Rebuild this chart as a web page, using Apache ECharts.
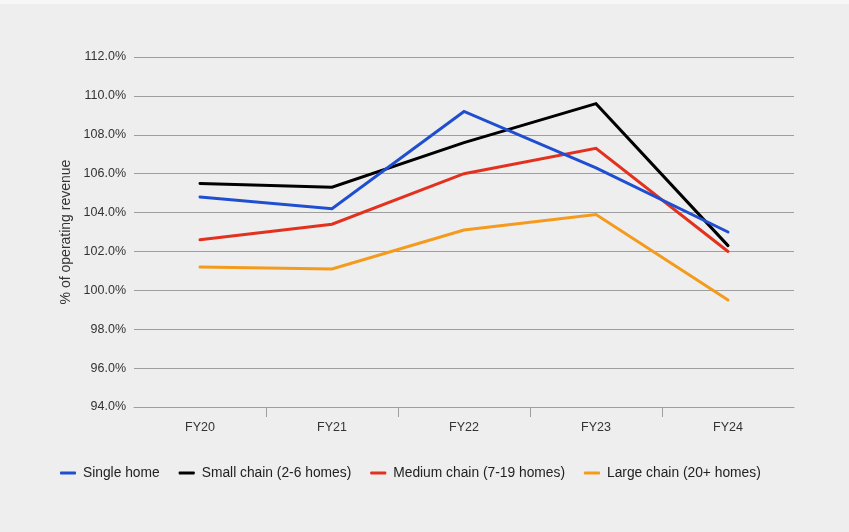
<!DOCTYPE html>
<html>
<head>
<meta charset="utf-8">
<script src="https://cdn.jsdelivr.net/npm/echarts@6/dist/echarts.min.js"></script>
<style>
html,body{margin:0;padding:0;background:#f7f7f7;}
#c{position:absolute;left:0;top:4px;width:849px;height:528px;background:#eeeeee;}
</style>
</head>
<body>
<div id="c"></div>
<script>
const categories = ['FY20', 'FY21', 'FY22', 'FY23', 'FY24'];
const singleHome = [104.8, 104.2, 109.2, 106.3, 103.0];
const smallChain = [105.5, 105.3, 107.6, 109.6, 102.3];
const mediumChain = [102.6, 103.4, 106.0, 107.3, 102.0];
const largeChain = [101.2, 101.1, 103.1, 103.9, 99.5];
const seriesNames = ['Single home', 'Small chain (2-6 homes)', 'Medium chain (7-19 homes)', 'Large chain (20+ homes)'];
const yAxisTitle = '% of operating revenue';

const colors = ['#1f4fd0', '#000000', '#e2321f', '#f49b1e'];
const font = 'Liberation Sans, Arial, sans-serif';
const chart = echarts.init(document.getElementById('c'), null, {renderer: 'canvas'});
const dataSets = [singleHome, smallChain, mediumChain, largeChain];
chart.setOption({
  backgroundColor: '#eeeeee',
  animation: false,
  color: colors,
  textStyle: {fontFamily: font},
  grid: {left: 134, right: 55, top: 53, bottom: 125},
  legend: {
    left: 55, top: 457,
    icon: 'roundRect',
    itemWidth: 16, itemHeight: 3, itemGap: 19,
    textStyle: {fontSize: 13.8, color: '#222', fontFamily: font, padding: [0, 0, 0, 2]},
    data: seriesNames
  },
  xAxis: [{
    type: 'category',
    data: categories,
    boundaryGap: true,
    axisLine: {show: true, lineStyle: {color: '#9e9e9e', width: 1}},
    axisTick: {show: false},
    axisLabel: {color: '#333', fontSize: 12.5, margin: 14, fontFamily: font}
  }, {
    type: 'value',
    position: 'bottom',
    min: 0, max: 5, interval: 1,
    axisLine: {show: false},
    axisLabel: {show: false},
    splitLine: {show: false},
    axisTick: {show: true, length: 10, lineStyle: {color: '#9e9e9e'}, customValues: [1, 2, 3, 4]}
  }],
  yAxis: {
    type: 'value',
    min: 94, max: 112, interval: 2,
    name: yAxisTitle,
    nameLocation: 'middle',
    nameGap: 57,
    nameTextStyle: {fontSize: 14, color: '#333', fontFamily: font},
    axisLine: {show: false},
    axisTick: {show: false},
    axisLabel: {color: '#333', fontSize: 12.5, margin: 8, fontFamily: font, formatter: function (v) { return v.toFixed(1) + '%'; }},
    splitLine: {lineStyle: {color: '#9e9e9e', width: 1}}
  },
  series: dataSets.map(function (d, i) {
    return {
      name: seriesNames[i],
      type: 'line',
      xAxisIndex: 0,
      data: d,
      symbol: 'none',
      lineStyle: {width: 3, color: colors[i], cap: 'round', join: 'miter'},
      itemStyle: {color: colors[i]},
      z: 10 - i
    };
  })
});
</script>
</body>
</html>
